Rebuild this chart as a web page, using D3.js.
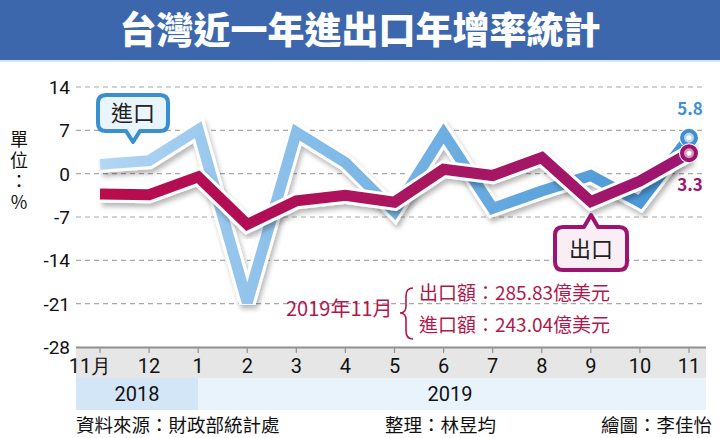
<!DOCTYPE html>
<meta charset="utf-8">
<style>
    body { margin: 0; background: #fff; }
    text { font-family: "Noto Sans CJK TC", "Noto Sans", sans-serif; }
    .tick-num { font-family: "Liberation Sans Narrow", Roboto, sans-serif; }
    .unit { writing-mode: vertical-rl; text-orientation: upright; }
</style>
<body>
<script src="https://d3js.org/d3.v7.min.js"></script>
<script>
    // data
    var months = ["11月", "12", "1", "2", "3", "4", "5", "6", "7", "8", "9", "10", "11"];
    var exportGrowth = [-3.3, -3.4, -0.5, -8.2, -4.4, -3.5, -4.6, 0.7, -0.3, 2.6, -4.5, -1.2, 3.3];
    var importGrowth = [1.5, 2.1, 7.1, -20.8, 6.7, 1.8, -6.1, 6.5, -5.6, -2.8, -0.3, -4.6, 5.8];
    var yTicks = [14, 7, 0, -7, -14, -21, -28];
    var years = [{ label: "2018", from: 0, to: 2 }, { label: "2019", from: 2, to: 12 }];

    var width = 720, height = 438;
    var svg = d3.select("body").append("svg")
        .attr("width", width)
        .attr("height", height);

    var x = d3.scalePoint().domain(months).range([100, 689]);
    var y = d3.scaleLinear().domain([-28, 14]).range([347, 87]);
    var left = 76, right = 706;

    var defs = svg.append("defs");
    var shadow = defs.append("filter").attr("id", "shadow")
        .attr("x", "-10%").attr("y", "-10%").attr("width", "120%").attr("height", "130%");
    shadow.append("feDropShadow")
        .attr("dx", 2).attr("dy", 4).attr("stdDeviation", 2.5)
        .attr("flood-color", "#000").attr("flood-opacity", 0.28);

    var gImp = defs.append("linearGradient").attr("id", "gImp")
        .attr("gradientUnits", "userSpaceOnUse")
        .attr("x1", 100).attr("x2", 689).attr("y1", 0).attr("y2", 0);
    gImp.append("stop").attr("offset", "0%").attr("stop-color", "#b3d6f3");
    gImp.append("stop").attr("offset", "30%").attr("stop-color", "#8cc0ea");
    gImp.append("stop").attr("offset", "100%").attr("stop-color", "#4394d5");

    var gExp = defs.append("linearGradient").attr("id", "gExp")
        .attr("gradientUnits", "userSpaceOnUse")
        .attr("x1", 100).attr("x2", 689).attr("y1", 0).attr("y2", 0);
    gExp.append("stop").attr("offset", "0%").attr("stop-color", "#b8104c");
    gExp.append("stop").attr("offset", "100%").attr("stop-color", "#9c1470");

    // title bar
    svg.append("rect").attr("x", 0).attr("y", 0).attr("width", width).attr("height", 60)
        .attr("fill", "#3d67ad");
    svg.append("rect").attr("x", 0).attr("y", 60).attr("width", width).attr("height", 2)
        .attr("fill", "#d6e6f6");
    svg.append("text")
        .attr("x", 360).attr("y", 44)
        .attr("text-anchor", "middle")
        .attr("fill", "#fff")
        .attr("font-size", 37)
        .attr("font-weight", 900)
        .text("台灣近一年進出口年增率統計");

    // grid
    svg.append("g").selectAll("line")
        .data(yTicks.filter(d => d > -28))
        .enter().append("line")
        .attr("x1", left).attr("x2", right)
        .attr("y1", d => y(d)).attr("y2", d => y(d))
        .attr("stroke", "#a8a8a8")
        .attr("stroke-width", 1.2)
        .attr("stroke-dasharray", "5,4");

    svg.append("g").selectAll("text")
        .data(yTicks)
        .enter().append("text")
        .attr("class", "tick-num")
        .attr("x", 70).attr("y", d => y(d) + 7)
        .attr("text-anchor", "end")
        .attr("font-size", 19)
        .attr("fill", "#111")
        .text(d => d);

    // unit label, written vertically
    svg.append("text")
        .attr("class", "unit")
        .attr("x", 19).attr("y", 130)
        .attr("font-size", 18)
        .attr("letter-spacing", 3)
        .attr("fill", "#111")
        .text("單位：%");

    // x axis band
    svg.append("rect").attr("x", left).attr("y", 347).attr("width", right - left).attr("height", 31)
        .attr("fill", "#e6e6e6");
    svg.append("line").attr("x1", left).attr("x2", right).attr("y1", 347.5).attr("y2", 347.5)
        .attr("stroke", "#8f8f8f").attr("stroke-width", 2);
    svg.append("g").selectAll("line")
        .data(months)
        .enter().append("line")
        .attr("x1", d => x(d)).attr("x2", d => x(d))
        .attr("y1", 347).attr("y2", 353)
        .attr("stroke", "#8f8f8f").attr("stroke-width", 1.2);
    svg.append("g").selectAll("text")
        .data(months)
        .enter().append("text")
        .attr("class", "tick-num")
        .attr("x", (d, i) => i == 0 ? x(d) - 10 : x(d))
        .attr("y", 373)
        .attr("text-anchor", "middle")
        .attr("font-size", 20)
        .attr("fill", "#111")
        .text(d => d);

    // year band
    var yearX = i => i == 0 ? left : (i >= months.length - 1 ? right : x(months[i]));
    svg.append("g").selectAll("rect")
        .data(years)
        .enter().append("rect")
        .attr("x", d => yearX(d.from))
        .attr("y", 378)
        .attr("width", d => yearX(d.to) - yearX(d.from))
        .attr("height", 32)
        .attr("fill", (d, i) => i == 0 ? "#d3e6f7" : "#e9f3fb");
    svg.append("g").selectAll("text")
        .data(years)
        .enter().append("text")
        .attr("class", "tick-num")
        .attr("x", (d, i) => i == 0 ? 137 : 450)
        .attr("y", 401)
        .attr("text-anchor", "middle")
        .attr("font-size", 20)
        .attr("fill", "#111")
        .text(d => d.label);

    // lines
    var line = d3.line()
        .x((d, i) => x(months[i]))
        .y(d => y(d));

    function drawSeries(values, grad) {
        var g = svg.append("g").attr("filter", "url(#shadow)");
        g.append("path").attr("d", line(values))
            .attr("fill", "none").attr("stroke", "#fff")
            .attr("stroke-width", 17).attr("stroke-linejoin", "miter").attr("stroke-miterlimit", 2.2);
        g.append("path").attr("d", line(values))
            .attr("fill", "none").attr("stroke", grad)
            .attr("stroke-width", 11).attr("stroke-linejoin", "miter").attr("stroke-miterlimit", 2.2);
    }
    drawSeries(importGrowth, "url(#gImp)");
    drawSeries(exportGrowth, "url(#gExp)");

    // end markers
    function marker(v, col, fillCol) {
        var cx = x(months[months.length - 1]), cy = y(v);
        svg.append("circle").attr("cx", cx).attr("cy", cy).attr("r", 10).attr("fill", "#fff");
        svg.append("circle").attr("cx", cx).attr("cy", cy).attr("r", 7)
            .attr("fill", fillCol).attr("stroke", col).attr("stroke-width", 4);
        svg.append("circle").attr("cx", cx).attr("cy", cy).attr("r", 2.5).attr("fill", "#fff");
    }
    marker(importGrowth[12], "#3f8fd2", "#b9d6ef");
    marker(exportGrowth[12], "#9c1470", "#d99ab5");

    svg.append("text").attr("x", 690).attr("y", 115).attr("text-anchor", "middle")
        .attr("font-family", "Roboto, sans-serif")
        .attr("font-size", 17).attr("font-weight", 700).attr("fill", "#3f8fd2")
        .text(importGrowth[12]);
    svg.append("text").attr("x", 690).attr("y", 191).attr("text-anchor", "middle")
        .attr("font-family", "Roboto, sans-serif")
        .attr("font-size", 17).attr("font-weight", 700).attr("fill", "#9c1470")
        .text(exportGrowth[12]);

    // callouts
    function callout(cx, top, w, h, tipY, up, col, fillCol, label) {
        var l = cx - w / 2, r = cx + w / 2, b = top + h, rr = 8, t = 7;
        var p = d3.path();
        p.moveTo(l + rr, top);
        if (up) { p.lineTo(cx - t, top); p.lineTo(cx, tipY); p.lineTo(cx + t, top); }
        p.lineTo(r - rr, top);
        p.quadraticCurveTo(r, top, r, top + rr);
        p.lineTo(r, b - rr);
        p.quadraticCurveTo(r, b, r - rr, b);
        if (!up) { p.lineTo(cx + t, b); p.lineTo(cx, tipY); p.lineTo(cx - t, b); }
        p.lineTo(l + rr, b);
        p.quadraticCurveTo(l, b, l, b - rr);
        p.lineTo(l, top + rr);
        p.quadraticCurveTo(l, top, l + rr, top);
        p.closePath();
        svg.append("path").attr("d", p.toString())
            .attr("fill", fillCol).attr("stroke", col).attr("stroke-width", 4)
            .attr("stroke-linejoin", "round");
        svg.append("text").attr("x", cx).attr("y", top + h / 2 + 8)
            .attr("text-anchor", "middle").attr("font-size", 22).attr("fill", "#222")
            .text(label);
    }
    callout(133, 95, 70, 36, 142, false, "#3a8fd0", "#eaf4fc", "進口");
    callout(591, 227, 72, 43, 215, true, "#9c1470", "#f8eef4", "出口");

    // annotation
    var red = "#b3164a";
    svg.append("text").attr("x", 286).attr("y", 316).attr("font-size", 20).attr("fill", red)
        .text("2019年11月");
    svg.append("path")
        .attr("d", "M413,288 Q406,288 406,296 L406,306 Q406,313 400,313 Q406,313 406,320 L406,331 Q406,339 413,339")
        .attr("fill", "none").attr("stroke", red).attr("stroke-width", 1.6);
    svg.append("text").attr("x", 419).attr("y", 300).attr("font-size", 19).attr("fill", red)
        .text("出口額：285.83億美元");
    svg.append("text").attr("x", 419).attr("y", 332).attr("font-size", 19).attr("fill", red)
        .text("進口額：243.04億美元");

    // footer
    var foot = [
        { t: "資料來源：財政部統計處", x: 76, a: "start" },
        { t: "整理：林昱均", x: 385, a: "start" },
        { t: "繪圖：李佳怡", x: 712, a: "end" }
    ];
    svg.append("g").selectAll("text")
        .data(foot)
        .enter().append("text")
        .attr("x", d => d.x).attr("y", 432)
        .attr("text-anchor", d => d.a)
        .attr("font-size", 18.5).attr("fill", "#111")
        .text(d => d.t);
</script>
</body>
